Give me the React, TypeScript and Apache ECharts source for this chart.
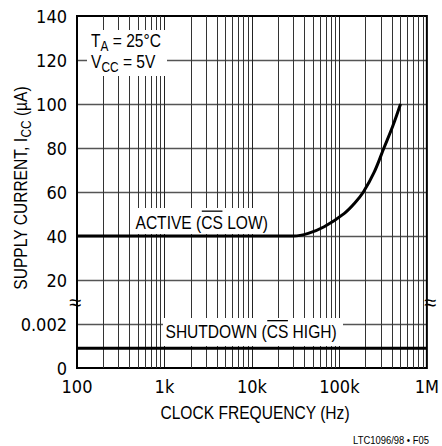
import React, { useEffect, useRef } from 'react';
import * as echarts from 'echarts';

// ---------- data ----------
const xDecades = [100, 1000, 10000, 100000, 1000000];
const xTickLabels = ['100', '1k', '10k', '100k', '1M'];
const minorFreqs = [
  200, 300, 400, 500, 600, 700, 800, 900,
  2000, 3000, 4000, 5000, 6000, 7000, 8000, 9000,
  20000, 30000, 40000, 50000, 60000, 70000, 80000, 90000,
  200000, 300000, 400000, 500000, 600000, 700000, 800000, 900000,
];
// broken y axis: tick index -> label
const yTickLabels = ['0', '0.002', '20', '40', '60', '80', '100', '120', '140'];

// ACTIVE (CS LOW) supply current, µA
const activeFreq = [100, 1000, 10000, 30000, 44000, 67000, 114000, 150000, 188000, 250000, 323000, 408000, 500000];
const activeCurrent = [40, 40, 40, 40, 41.2, 44.2, 50.3, 55, 60, 69, 80, 90, 100];

// SHUTDOWN (CS HIGH) supply current, µA
const shutdownFreq = [100, 1000000];
const shutdownCurrent = [0.0009, 0.0009];

// map value (µA) to broken-axis position
const upperToAxis = (v: number) => 1 + v / 20; // 20 -> 2, 40 -> 3 ...
const lowerToAxis = (v: number) => v / 0.002; // 0.002 -> 1

const AXFONT = "'Liberation Sans Narrow', 'Arial Narrow', 'DejaVu Sans Condensed', sans-serif";
const GFONT = "'Liberation Sans', Arial, sans-serif";
const SX = 0.82; // horizontal condensing for annotation text

let measureCtx: CanvasRenderingContext2D | null = null;
function measure(t: string, size: number) {
  if (!measureCtx) measureCtx = document.createElement('canvas').getContext('2d');
  measureCtx!.font = `${size}px ${GFONT}`;
  return measureCtx!.measureText(t).width * SX;
}

type Frag = { t: string; s: number; dy?: number };

function textEl(t: string, s: number, x: number, y: number, z: number, extra: any = {}) {
  const { style, ...rest } = extra;
  return {
    type: 'text',
    x,
    y,
    z,
    scaleX: SX,
    ...rest,
    style: {
      text: t,
      font: `${s}px ${GFONT}`,
      fill: '#000',
      align: 'left',
      verticalAlign: 'middle',
      textAlign: 'left',
      textVerticalAlign: 'middle',
      ...(style || {}),
    },
  };
}

function hText(frags: Frag[], x: number, y: number, z: number) {
  const els: any[] = [];
  let cx = x;
  for (const f of frags) {
    els.push(textEl(f.t, f.s, cx, y + (f.dy || 0), z));
    cx += measure(f.t, f.s);
  }
  return els;
}

function vText(frags: Frag[], cxPos: number, cy: number, z: number) {
  const total = frags.reduce((a, f) => a + measure(f.t, f.s), 0);
  let y = cy + total / 2;
  const els: any[] = [];
  for (const f of frags) {
    els.push(textEl(f.t, f.s, cxPos + (f.dy || 0), y, z, { rotation: Math.PI / 2 }));
    y -= measure(f.t, f.s);
  }
  return els;
}

function overlineLabel(prefix: string, bar: string, suffix: string, x: number, y: number, s: number, z: number) {
  const w1 = measure(prefix, s);
  const w2 = measure(bar, s);
  const els: any[] = [textEl(prefix + bar + suffix, s, x, y, z)];
  const oy = y - s * 0.36 - 4;
  els.push({
    type: 'line',
    z: z + 1,
    shape: { x1: x + w1 + 0.5, y1: oy, x2: x + w1 + w2 - 0.5, y2: oy },
    style: { stroke: '#000', lineWidth: 1.3 },
  });
  return els;
}

export default function App() {
  const ref = useRef<HTMLDivElement>(null);
  useEffect(() => {
    if (!ref.current) return;
    const chart = echarts.init(ref.current, null, { renderer: 'svg' });
    const FS = 18;
    const GS = 19;
    const elements: any[] = [
      // label boxes
      { type: 'rect', z: 50, shape: { x: 87, y: 30, width: 80, height: 46 }, style: { fill: '#fff' } },
      { type: 'rect', z: 50, shape: { x: 133, y: 208, width: 138, height: 26 }, style: { fill: '#fff' } },
      { type: 'rect', z: 50, shape: { x: 163, y: 318, width: 180, height: 28 }, style: { fill: '#fff' } },
      ...hText([{ t: 'T', s: GS }, { t: 'A', s: 14.5, dy: 6.5 }, { t: ' = 25°C', s: GS }], 91, 40, 51),
      ...hText([{ t: 'V', s: GS }, { t: 'CC', s: 14.5, dy: 6.5 }, { t: ' = 5V', s: GS }], 91, 61, 51),
      ...overlineLabel('ACTIVE (', 'CS', ' LOW)', 135.5, 222, GS, 51),
      ...overlineLabel('SHUTDOWN (', 'CS', ' HIGH)', 165.5, 331.5, GS, 51),
      ...vText([{ t: 'SUPPLY CURRENT, I', s: GS }, { t: 'CC', s: 14.5, dy: 6 }, { t: ' (µA)', s: GS }], 20.5, 188, 51),
      textEl('CLOCK FREQUENCY (Hz)', GS, 255, 412, 51, { style: { align: 'center', textAlign: 'center' } }),
      textEl('LTC1096/98 • F05', 11.5, 429, 440, 51, { style: { align: 'right', textAlign: 'right' } }),
      textEl('≈', 22, 75, 302, 51, { scaleX: 1, style: { align: 'center', textAlign: 'center' } }),
      textEl('≈', 22, 430, 302, 51, { scaleX: 1, style: { align: 'center', textAlign: 'center' } }),
    ];

    chart.setOption({
      animation: false,
      grid: {
        left: 77,
        right: 12,
        top: 16,
        bottom: 78,
        show: true,
        z: 3,
        backgroundColor: 'transparent',
        borderColor: '#000',
        borderWidth: 2,
      },
      xAxis: {
        type: 'log',
        logBase: 10,
        min: 100,
        max: 1000000,
        axisLine: { show: false },
        axisTick: { show: false },
        axisLabel: {
          margin: 9,
          color: '#000',
          fontSize: FS,
          fontFamily: AXFONT,
          formatter: (v: number) => {
            const i = xDecades.findIndex((d) => Math.abs(Math.log10(d) - Math.log10(v)) < 1e-6);
            return i >= 0 ? xTickLabels[i] : '';
          },
        },
        splitLine: { show: true, showMinLine: false, showMaxLine: false, lineStyle: { color: '#222', width: 1 } },
      },
      yAxis: {
        type: 'value',
        min: 0,
        max: 8,
        interval: 1,
        axisLine: { show: false },
        axisTick: { show: false },
        axisLabel: {
          margin: 10,
          color: '#000',
          fontSize: FS,
          fontFamily: AXFONT,
          formatter: (v: number) => yTickLabels[Math.round(v)] ?? '',
        },
        splitLine: { show: true, showMinLine: false, showMaxLine: false, lineStyle: { color: '#555', width: 1.3 } },
      },
      graphic: elements,
      series: [
        {
          type: 'line',
          data: [],
          silent: true,
          symbol: 'none',
          markLine: {
            silent: true,
            symbol: ['none', 'none'],
            label: { show: false },
            animation: false,
            lineStyle: { color: '#333', width: 1, type: 'solid' },
            emphasis: { disabled: true },
            data: minorFreqs.map((f) => ({ xAxis: f })),
          },
        },
        {
          type: 'line',
          z: 100,
          symbol: 'none',
          smooth: 0.35,
          lineStyle: { color: '#000', width: 3 },
          data: activeFreq.map((f, i) => [f, upperToAxis(activeCurrent[i])]),
        },
        {
          type: 'line',
          z: 100,
          symbol: 'none',
          lineStyle: { color: '#000', width: 3 },
          data: shutdownFreq.map((f, i) => [f, lowerToAxis(shutdownCurrent[i])]),
        },
      ],
    });
    return () => chart.dispose();
  }, []);
  return <div ref={ref} style={{ width: 442, height: 446, position: 'absolute', left: 0, top: 0 }} />;
}
